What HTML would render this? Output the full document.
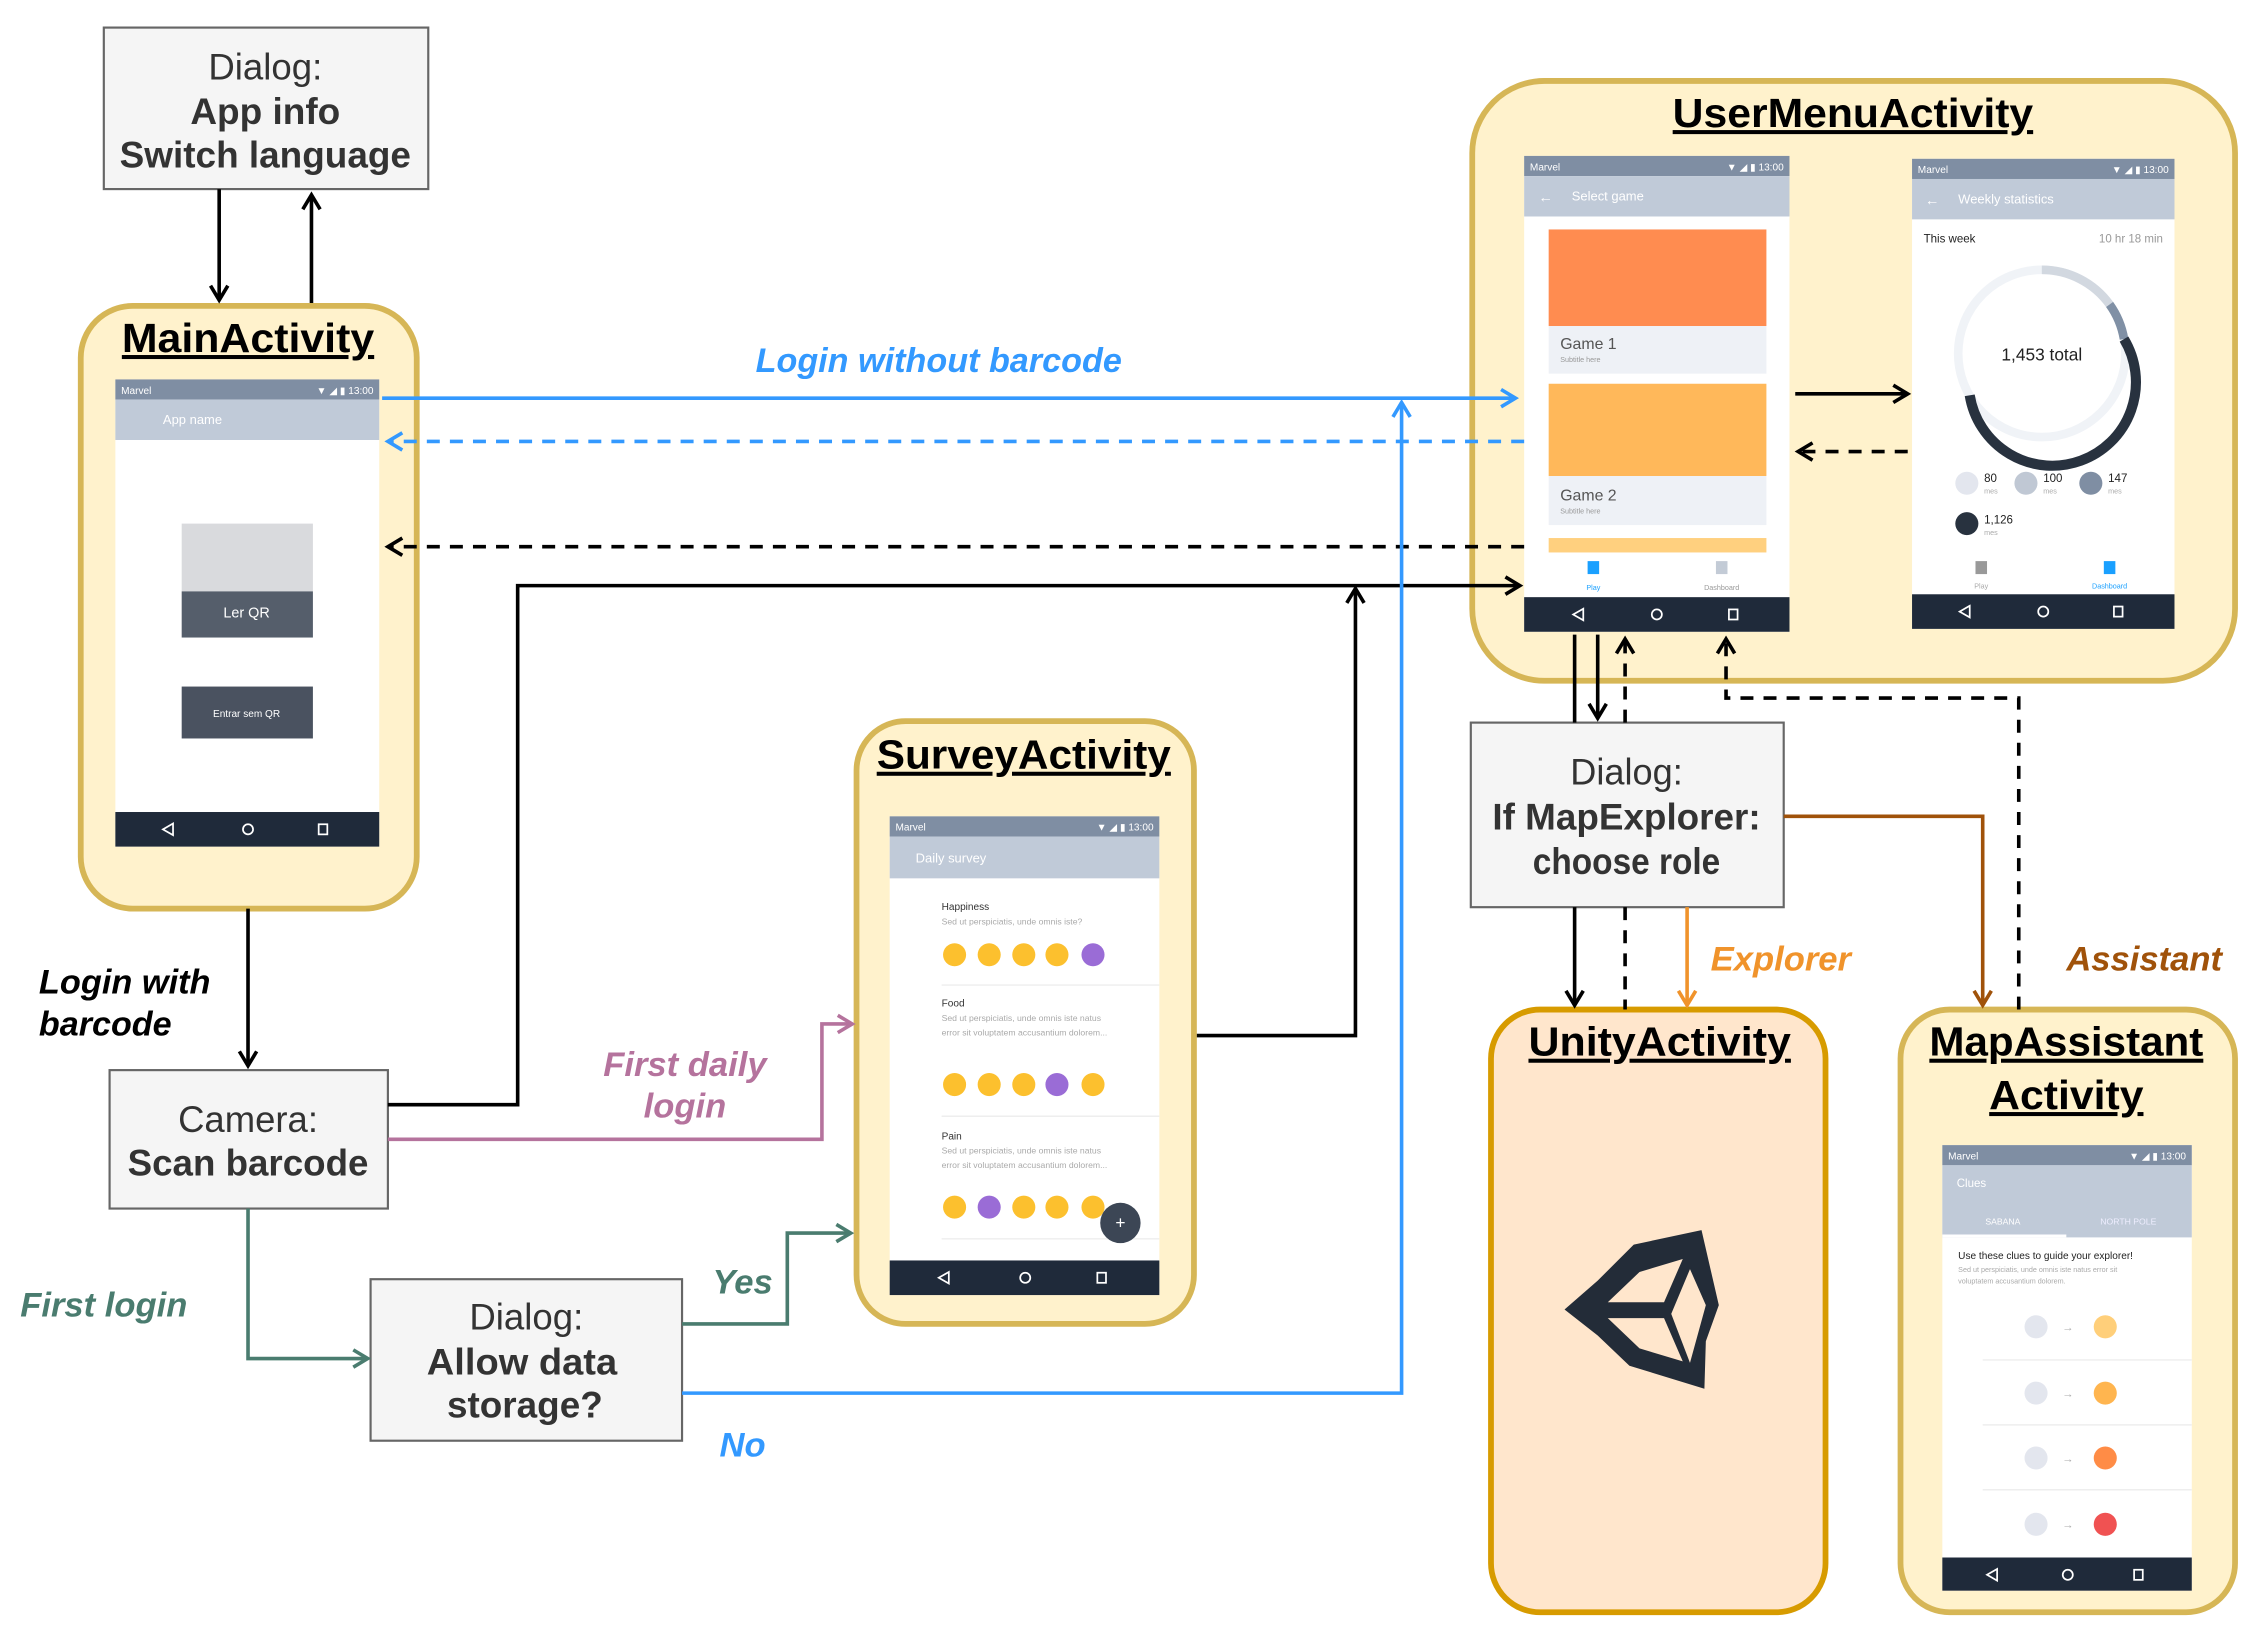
<!DOCTYPE html>
<html><head><meta charset="utf-8"><style>
html,body{margin:0;padding:0;background:#fff;}
svg{display:block;}
text{font-family:"Liberation Sans",sans-serif;}
</style></head><body>
<svg width="2261" height="1637" viewBox="0 0 1568 1135" xmlns="http://www.w3.org/2000/svg">
<defs>
<marker id="ak" markerUnits="userSpaceOnUse" markerWidth="16" markerHeight="16" refX="13" refY="8" orient="auto"><path d="M3,2 L13,8 L3,14" fill="none" stroke="#000" stroke-width="2.5"/></marker>
<marker id="ab" markerUnits="userSpaceOnUse" markerWidth="16" markerHeight="16" refX="13" refY="8" orient="auto"><path d="M3,2 L13,8 L3,14" fill="none" stroke="#3399ff" stroke-width="2.5"/></marker>
<marker id="ap" markerUnits="userSpaceOnUse" markerWidth="16" markerHeight="16" refX="13" refY="8" orient="auto"><path d="M3,2 L13,8 L3,14" fill="none" stroke="#b5739d" stroke-width="2.5"/></marker>
<marker id="ag" markerUnits="userSpaceOnUse" markerWidth="16" markerHeight="16" refX="13" refY="8" orient="auto"><path d="M3,2 L13,8 L3,14" fill="none" stroke="#4a7c6f" stroke-width="2.5"/></marker>
<marker id="ao" markerUnits="userSpaceOnUse" markerWidth="16" markerHeight="16" refX="13" refY="8" orient="auto"><path d="M3,2 L13,8 L3,14" fill="none" stroke="#f0932b" stroke-width="2.5"/></marker>
<marker id="ar" markerUnits="userSpaceOnUse" markerWidth="16" markerHeight="16" refX="13" refY="8" orient="auto"><path d="M3,2 L13,8 L3,14" fill="none" stroke="#a0520a" stroke-width="2.5"/></marker>
</defs>

<!-- Containers -->
<rect x="56" y="212" width="233" height="418" rx="36" fill="#fff2cc" stroke="#d6b656" stroke-width="4"/>
<rect x="1021" y="56" width="529" height="416" rx="50" fill="#fff2cc" stroke="#d6b656" stroke-width="4"/>
<rect x="594" y="500" width="234" height="418" rx="34" fill="#fff2cc" stroke="#d6b656" stroke-width="4"/>
<rect x="1034" y="700" width="232" height="418" rx="34" fill="#ffe6cc" stroke="#d79b00" stroke-width="4"/>
<rect x="1318" y="700" width="232" height="418" rx="34" fill="#fff2cc" stroke="#d6b656" stroke-width="4"/>

<g font-weight="bold" font-size="28" text-anchor="middle" text-decoration="underline" fill="#000" lengthAdjust="spacingAndGlyphs">
<text x="172" y="244" textLength="175" lengthAdjust="spacingAndGlyphs">MainActivity</text>
<text x="1285" y="88" textLength="250" lengthAdjust="spacingAndGlyphs">UserMenuActivity</text>
<text x="710" y="533" textLength="204" lengthAdjust="spacingAndGlyphs">SurveyActivity</text>
<text x="1151" y="732" textLength="182" lengthAdjust="spacingAndGlyphs">UnityActivity</text>
<text x="1433" y="732" textLength="190" lengthAdjust="spacingAndGlyphs">MapAssistant</text>
<text x="1433" y="769" textLength="107" lengthAdjust="spacingAndGlyphs">Activity</text>
</g>

<!-- Main phone -->
<rect x="80" y="263" width="183" height="324" fill="#fff"/>
<rect x="80" y="263" width="183" height="14" fill="#7f8ea3"/>
<rect x="80" y="277" width="183" height="28" fill="#c0cad8"/>
<text x="84" y="273" font-size="7" fill="#fff">Marvel</text>
<text x="259" y="273" font-size="7" fill="#fff" text-anchor="end">▼ ◢ ▮ 13:00</text>
<text x="113" y="294" font-size="9" fill="#fff">App name</text>
<rect x="126" y="363" width="91" height="47" fill="#d9dadd"/>
<rect x="126" y="410" width="91" height="32" fill="#555e6b"/>
<text x="171" y="428" font-size="10" fill="#fff" text-anchor="middle">Ler QR</text>
<rect x="126" y="476" width="91" height="36" fill="#4a5260"/>
<text x="171" y="497" font-size="7" fill="#fff" text-anchor="middle">Entrar sem QR</text>
<rect x="80" y="563" width="183" height="24" fill="#1f2a3a"/>
<g fill="none" stroke="#fff" stroke-width="1.2"><path d="M120,571 L113,575 L120,579Z"/><circle cx="172" cy="575" r="3.5"/><rect x="221" y="571.5" width="6" height="7"/></g>

<!-- UserMenu phone 1 -->
<rect x="1057" y="108" width="184" height="330" fill="#fff"/>
<rect x="1057" y="108" width="184" height="14" fill="#7f8ea3"/>
<rect x="1057" y="122" width="184" height="28" fill="#c0cad8"/>
<text x="1061" y="118" font-size="7" fill="#fff">Marvel</text>
<text x="1237" y="118" font-size="7" fill="#fff" text-anchor="end">▼ ◢ ▮ 13:00</text>
<text x="1067" y="140" font-size="10" fill="#fff">←</text>
<text x="1090" y="139" font-size="9" fill="#fff">Select game</text>
<rect x="1074" y="159" width="151" height="67" fill="#ff8c50"/>
<rect x="1074" y="226" width="151" height="33" fill="#eef1f6"/>
<text x="1082" y="242" font-size="11" fill="#555">Game 1</text>
<text x="1082" y="251" font-size="5" fill="#999">Subtitle here</text>
<rect x="1074" y="266" width="151" height="64" fill="#ffb85a"/>
<rect x="1074" y="330" width="151" height="34" fill="#eef1f6"/>
<text x="1082" y="347" font-size="11" fill="#555">Game 2</text>
<text x="1082" y="356" font-size="5" fill="#999">Subtitle here</text>
<rect x="1074" y="373" width="151" height="10" fill="#ffd07f"/>
<rect x="1101" y="389" width="8" height="9" fill="#1aa0ff"/>
<rect x="1190" y="389" width="8" height="9" fill="#c3cbd6"/>
<text x="1105" y="409" font-size="5" fill="#1aa0ff" text-anchor="middle">Play</text>
<text x="1194" y="409" font-size="5" fill="#999" text-anchor="middle">Dashboard</text>
<rect x="1057" y="414" width="184" height="24" fill="#1f2a3a"/>
<g fill="none" stroke="#fff" stroke-width="1.2"><path d="M1098,422 L1091,426 L1098,430Z"/><circle cx="1149" cy="426" r="3.5"/><rect x="1199" y="422.5" width="6" height="7"/></g>

<!-- UserMenu phone 2 -->
<rect x="1326" y="110" width="182" height="326" fill="#fff"/>
<rect x="1326" y="110" width="182" height="14" fill="#7f8ea3"/>
<rect x="1326" y="124" width="182" height="28" fill="#c0cad8"/>
<text x="1330" y="120" font-size="7" fill="#fff">Marvel</text>
<text x="1504" y="120" font-size="7" fill="#fff" text-anchor="end">▼ ◢ ▮ 13:00</text>
<text x="1335" y="142" font-size="10" fill="#fff">←</text>
<text x="1358" y="141" font-size="9" fill="#fff">Weekly statistics</text>
<text x="1334" y="168" font-size="8" fill="#222">This week</text>
<text x="1500" y="168" font-size="8" fill="#999" text-anchor="end">10 hr 18 min</text>
<circle cx="1416" cy="245" r="58" fill="none" stroke="#f0f3f7" stroke-width="6"/>
<path d="M1416,187 A58,58 0 0 1 1463,211" fill="none" stroke="#d2d8e0" stroke-width="6"/>
<path d="M1463,211 A58,58 0 0 1 1473,235" fill="none" stroke="#8090a5" stroke-width="6"/>
<path d="M1473,235 A58,58 0 1 1 1366,274" fill="none" stroke="#28323f" stroke-width="7"/>
<text x="1416" y="250" font-size="12" fill="#222" text-anchor="middle">1,453 total</text>
<circle cx="1364" cy="335" r="8" fill="#e3e6ee"/><circle cx="1405" cy="335" r="8" fill="#c0c8d4"/><circle cx="1450" cy="335" r="8" fill="#7f8ea3"/><circle cx="1364" cy="363" r="8" fill="#28323f"/>
<g font-size="8" fill="#222"><text x="1376" y="334">80</text><text x="1417" y="334">100</text><text x="1462" y="334">147</text><text x="1376" y="363">1,126</text></g>
<g font-size="5" fill="#aaa"><text x="1376" y="342">mes</text><text x="1417" y="342">mes</text><text x="1462" y="342">mes</text><text x="1376" y="371">mes</text></g>
<rect x="1370" y="389" width="8" height="9" fill="#999"/>
<rect x="1459" y="389" width="8" height="9" fill="#1aa0ff"/>
<text x="1374" y="408" font-size="5" fill="#aaa" text-anchor="middle">Play</text>
<text x="1463" y="408" font-size="5" fill="#1aa0ff" text-anchor="middle">Dashboard</text>
<rect x="1326" y="412" width="182" height="24" fill="#1f2a3a"/>
<g fill="none" stroke="#fff" stroke-width="1.2"><path d="M1366,420 L1359,424 L1366,428Z"/><circle cx="1417" cy="424" r="3.5"/><rect x="1466" y="420.5" width="6" height="7"/></g>

<!-- Survey phone -->
<rect x="617" y="566" width="187" height="332" fill="#fff"/>
<rect x="617" y="566" width="187" height="14" fill="#7f8ea3"/>
<rect x="617" y="580" width="187" height="29" fill="#c0cad8"/>
<text x="621" y="576" font-size="7" fill="#fff">Marvel</text>
<text x="800" y="576" font-size="7" fill="#fff" text-anchor="end">▼ ◢ ▮ 13:00</text>
<text x="635" y="598" font-size="9" fill="#fff">Daily survey</text>
<g font-size="7" fill="#333"><text x="653" y="631">Happiness</text><text x="653" y="698">Food</text><text x="653" y="790">Pain</text></g>
<g font-size="6" fill="#aaa"><text x="653" y="641">Sed ut perspiciatis, unde omnis iste?</text><text x="653" y="708">Sed ut perspiciatis, unde omnis iste natus</text><text x="653" y="718">error sit voluptatem accusantium dolorem...</text><text x="653" y="800">Sed ut perspiciatis, unde omnis iste natus</text><text x="653" y="810">error sit voluptatem accusantium dolorem...</text></g>
<g stroke="#eee"><line x1="653" y1="683" x2="804" y2="683"/><line x1="653" y1="774" x2="804" y2="774"/><line x1="653" y1="859" x2="804" y2="859"/></g>
<g fill="#fcc02e"><circle cx="662" cy="662" r="8"/><circle cx="686" cy="662" r="8"/><circle cx="710" cy="662" r="8"/><circle cx="733" cy="662" r="8"/>
<circle cx="662" cy="752" r="8"/><circle cx="686" cy="752" r="8"/><circle cx="710" cy="752" r="8"/><circle cx="758" cy="752" r="8"/>
<circle cx="662" cy="837" r="8"/><circle cx="710" cy="837" r="8"/><circle cx="733" cy="837" r="8"/><circle cx="758" cy="837" r="8"/></g>
<g fill="#9a6cd6"><circle cx="758" cy="662" r="8"/><circle cx="733" cy="752" r="8"/><circle cx="686" cy="837" r="8"/></g>
<circle cx="777" cy="848" r="14" fill="#3c4655"/><text x="777" y="852" font-size="12" fill="#fff" text-anchor="middle">+</text>
<rect x="617" y="874" width="187" height="24" fill="#1f2a3a"/>
<g fill="none" stroke="#fff" stroke-width="1.2"><path d="M658,882 L651,886 L658,890Z"/><circle cx="711" cy="886" r="3.5"/><rect x="761" y="882.5" width="6" height="7"/></g>

<!-- MapAssistant phone -->
<rect x="1347" y="794" width="173" height="309" fill="#fff"/>
<rect x="1347" y="794" width="173" height="14" fill="#7f8ea3"/>
<rect x="1347" y="808" width="173" height="50" fill="#c0cad8"/>
<rect x="1347" y="856" width="86" height="2" fill="#fff"/>
<text x="1351" y="804" font-size="7" fill="#fff">Marvel</text>
<text x="1516" y="804" font-size="7" fill="#fff" text-anchor="end">▼ ◢ ▮ 13:00</text>
<text x="1357" y="823" font-size="8" fill="#fff">Clues</text>
<text x="1389" y="849" font-size="6" fill="#fff" text-anchor="middle">SABANA</text>
<text x="1476" y="849" font-size="6" fill="#eef" text-anchor="middle">NORTH POLE</text>
<text x="1358" y="873" font-size="7" fill="#222">Use these clues to guide your explorer!</text>
<text x="1358" y="882" font-size="5" fill="#aaa">Sed ut perspiciatis, unde omnis iste natus error sit</text>
<text x="1358" y="890" font-size="5" fill="#aaa">voluptatem accusantium dolorem.</text>
<g stroke="#eee"><line x1="1375" y1="943" x2="1520" y2="943"/><line x1="1375" y1="988" x2="1520" y2="988"/><line x1="1375" y1="1033" x2="1520" y2="1033"/></g>
<g fill="#e3e6ee"><circle cx="1412" cy="920" r="8"/><circle cx="1412" cy="966" r="8"/><circle cx="1412" cy="1011" r="8"/><circle cx="1412" cy="1057" r="8"/></g>
<g font-size="8" fill="#aaa" text-anchor="middle"><text x="1434" y="923">→</text><text x="1434" y="969">→</text><text x="1434" y="1014">→</text><text x="1434" y="1060">→</text></g>
<circle cx="1460" cy="920" r="8" fill="#ffcf7a"/><circle cx="1460" cy="966" r="8" fill="#ffb54f"/><circle cx="1460" cy="1011" r="8" fill="#ff8c46"/><circle cx="1460" cy="1057" r="8" fill="#f05252"/>
<rect x="1347" y="1080" width="173" height="23" fill="#1f2a3a"/>
<g fill="none" stroke="#fff" stroke-width="1.2"><path d="M1385,1088 L1378,1092 L1385,1096Z"/><circle cx="1434" cy="1092" r="3.5"/><rect x="1480" y="1088.5" width="6" height="7"/></g>

<!-- Unity logo -->
<g fill="#232c38">
<path d="M1180,853 L1192,905 L1183,930 L1182,963 L1130,947 L1108,926 L1085,908 L1108,888 L1133,863 Z M1167,873 L1137,882 L1115,903 L1154,903 Z M1172,880 L1159,911 L1172,945 L1183,905 Z M1115,914 L1137,935 L1167,944 L1154,914 Z"/>
</g>

<!-- Dialog boxes -->
<g fill="#f5f5f5" stroke="#666" stroke-width="1.5">
<rect x="72" y="19" width="225" height="112"/>
<rect x="76" y="742" width="193" height="96"/>
<rect x="257" y="887" width="216" height="112"/>
<rect x="1020" y="501" width="217" height="128"/>
</g>
<g font-size="26" fill="#333" text-anchor="middle">
<text x="184" y="55" textLength="79" lengthAdjust="spacingAndGlyphs">Dialog:</text>
<text x="184" y="86" font-weight="bold" textLength="104" lengthAdjust="spacingAndGlyphs">App info</text>
<text x="184" y="116" font-weight="bold" textLength="202" lengthAdjust="spacingAndGlyphs">Switch language</text>
<text x="172" y="785" textLength="97" lengthAdjust="spacingAndGlyphs">Camera:</text>
<text x="172" y="815" font-weight="bold" textLength="167" lengthAdjust="spacingAndGlyphs">Scan barcode</text>
<text x="365" y="922" textLength="79" lengthAdjust="spacingAndGlyphs">Dialog:</text>
<text x="362" y="953" font-weight="bold" textLength="132" lengthAdjust="spacingAndGlyphs">Allow data</text>
<text x="364" y="983" font-weight="bold" textLength="108" lengthAdjust="spacingAndGlyphs">storage?</text>
<text x="1128" y="544" textLength="78" lengthAdjust="spacingAndGlyphs">Dialog:</text>
<text x="1128" y="575" font-weight="bold" textLength="186" lengthAdjust="spacingAndGlyphs">If MapExplorer:</text>
<text x="1128" y="606" font-weight="bold" textLength="130" lengthAdjust="spacingAndGlyphs">choose role</text>
</g>

<!-- Connectors -->
<g fill="none" stroke-width="2.5">
<path d="M152,131 V208" stroke="#000" marker-end="url(#ak)"/>
<path d="M216,210 V135" stroke="#000" marker-end="url(#ak)"/>
<path d="M265,276 H1051" stroke="#3399ff" marker-end="url(#ab)"/>
<path d="M1057,306 H269" stroke="#3399ff" stroke-dasharray="9,7" marker-end="url(#ab)"/>
<path d="M1057,379 H269" stroke="#000" stroke-dasharray="9,7" marker-end="url(#ak)"/>
<path d="M269,766 H359 V406 H1054" stroke="#000" marker-end="url(#ak)"/>
<path d="M830,718 H940 V408" stroke="#000" marker-end="url(#ak)"/>
<path d="M473,966 H972 V279" stroke="#3399ff" marker-end="url(#ab)"/>
<path d="M172,630 V739" stroke="#000" marker-end="url(#ak)"/>
<path d="M269,790 H570 V710 H591" stroke="#b5739d" marker-end="url(#ap)"/>
<path d="M172,838 V942 H255" stroke="#4a7c6f" marker-end="url(#ag)"/>
<path d="M473,918 H546 V855 H590" stroke="#4a7c6f" marker-end="url(#ag)"/>
<path d="M1245,273 H1323" stroke="#000" marker-end="url(#ak)"/>
<path d="M1323,313 H1247" stroke="#000" stroke-dasharray="9,7" marker-end="url(#ak)"/>
<path d="M1092,440 V501" stroke="#000"/>
<path d="M1108,440 V498" stroke="#000" marker-end="url(#ak)"/>
<path d="M1127,501 V443" stroke="#000" stroke-dasharray="9,7" marker-end="url(#ak)"/>
<path d="M1400,700 V484 H1197 V443" stroke="#000" stroke-dasharray="9,7" marker-end="url(#ak)"/>
<path d="M1092,629 V697" stroke="#000" marker-end="url(#ak)"/>
<path d="M1127,629 V700" stroke="#000" stroke-dasharray="9,7"/>
<path d="M1170,629 V697" stroke="#f0932b" marker-end="url(#ao)"/>
<path d="M1237,566 H1375 V697" stroke="#a0520a" marker-end="url(#ar)"/>
</g>

<!-- Labels -->
<g font-size="24" font-weight="bold" font-style="italic">
<text x="651" y="258" fill="#3399ff" text-anchor="middle" textLength="254" lengthAdjust="spacingAndGlyphs">Login without barcode</text>
<text x="27" y="689" fill="#000" textLength="119" lengthAdjust="spacingAndGlyphs">Login with</text>
<text x="27" y="718" fill="#000" textLength="92" lengthAdjust="spacingAndGlyphs">barcode</text>
<text x="475" y="746" fill="#b5739d" text-anchor="middle">First daily</text>
<text x="475" y="775" fill="#b5739d" text-anchor="middle">login</text>
<text x="72" y="913" fill="#4a7c6f" text-anchor="middle">First login</text>
<text x="515" y="897" fill="#4a7c6f" text-anchor="middle">Yes</text>
<text x="515" y="1010" fill="#3399ff" text-anchor="middle">No</text>
<text x="1235" y="673" fill="#f0932b" text-anchor="middle">Explorer</text>
<text x="1487" y="673" fill="#a0520a" text-anchor="middle">Assistant</text>
</g>
</svg>
</body></html>
